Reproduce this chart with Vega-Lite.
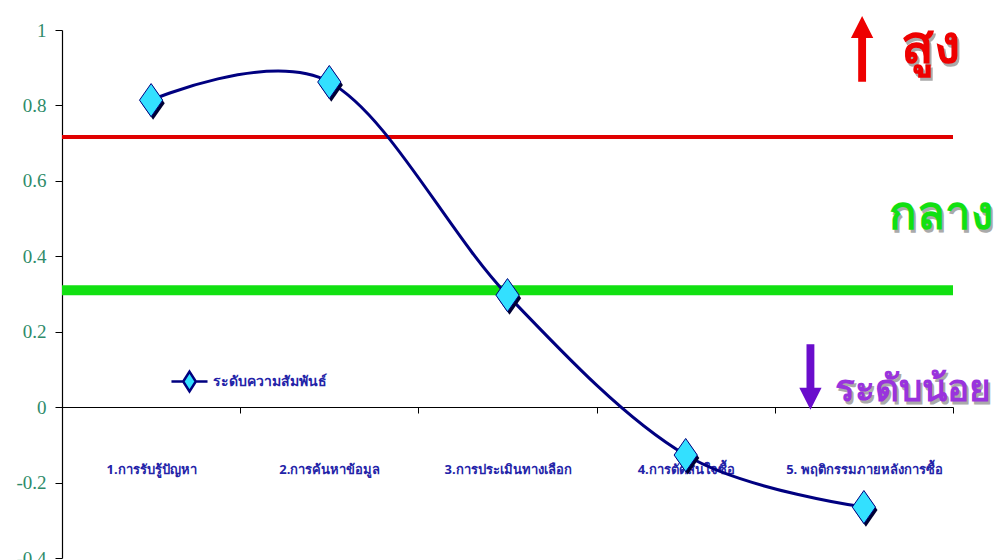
{
  "$schema": "https://vega.github.io/schema/vega-lite/v6.json",
  "width": 891,
  "height": 528,
  "autosize": {"type": "none"},
  "padding": {"left": 62, "top": 30, "right": 44, "bottom": 2},
  "background": "white",
  "config": {"view": {"stroke": null}},
  "datasets": {
    "stages": [
      {"stage": "1.การรับรู้ปัญหา", "value": 0.814, "series": "ระดับความสัมพันธ์"},
      {"stage": "2.การค้นหาข้อมูล", "value": 0.862, "series": "ระดับความสัมพันธ์"},
      {"stage": "3.การประเมินทางเลือก", "value": 0.297, "series": "ระดับความสัมพันธ์"},
      {"stage": "4.การตัดสินใจซื้อ", "value": -0.127, "series": "ระดับความสัมพันธ์"},
      {"stage": "5. พฤติกรรมภายหลังการซื้อ", "value": -0.265, "series": "ระดับความสัมพันธ์"}
    ],
    "levels": [
      {"level": "สูง", "value": 0.716},
      {"level": "กลาง", "value": 0.31}
    ],
    "notes": [
      {"label": "สูง", "px": 5.04, "py": 0.955},
      {"label": "กลาง", "px": 5.225, "py": 0.51},
      {"label": "ระดับน้อย", "px": 5.215, "py": 0.045}
    ],
    "arrows": [
      {"dir": "up", "px": 4.49, "py": 0.95},
      {"dir": "down", "px": 4.2, "py": 0.08}
    ]
  },
  "layer": [
    {
      "layer": [
        {
          "data": {"name": "levels"},
          "transform": [{"filter": "datum.level == 'สูง'"}],
          "mark": {"type": "rule", "color": "#e00000", "strokeWidth": 4},
          "encoding": {
            "y": {
              "field": "value", "type": "quantitative",
              "scale": {"domain": [-0.4, 1], "nice": false, "zero": false},
              "axis": {
                "title": null, "grid": false,
                "values": [-0.4, -0.2, 0, 0.2, 0.4, 0.6, 0.8, 1],
                "labelExpr": "'' + datum.value",
                "domainColor": "black", "domainWidth": 1.2,
                "tickColor": "black", "tickSize": 7,
                "labelFont": "Liberation Serif", "labelFontSize": 19,
                "labelColor": "#2e8b6a", "labelPadding": 9
              }
            }
          }
        },
        {
          "data": {"name": "levels"},
          "transform": [{"filter": "datum.level == 'กลาง'"}],
          "mark": {"type": "rule", "color": "#11e011", "strokeWidth": 10},
          "encoding": {"y": {"field": "value", "type": "quantitative"}}
        },
        {
          "data": {"name": "stages"},
          "mark": {"type": "line", "color": "#000080", "strokeWidth": 3, "interpolate": "cardinal"},
          "encoding": {
            "x": {
              "field": "stage", "type": "nominal", "sort": null,
              "scale": {"type": "band", "paddingInner": 0, "paddingOuter": 0},
              "axis": {
                "title": null, "orient": "bottom", "offset": -151,
                "domainColor": "black", "domainWidth": 1.2,
                "tickColor": "black", "tickSize": 6, "tickBand": "extent",
                "labelPadding": 50, "labelAngle": 0,
                "labelFont": "Noto Sans", "labelFontSize": 13, "labelFontWeight": "bold",
                "labelColor": "#2323a8"
              }
            },
            "y": {"field": "value", "type": "quantitative"}
          }
        },
        {
          "data": {"name": "stages"},
          "mark": {"type": "point", "shape": "M0,-1L0.7,0L0,1L-0.7,0Z", "size": 1100, "filled": true, "color": "#000033", "opacity": 1, "xOffset": 2, "yOffset": 3},
          "encoding": {
            "x": {"field": "stage", "type": "nominal", "sort": null},
            "y": {"field": "value", "type": "quantitative"}
          }
        },
        {
          "data": {"name": "stages"},
          "mark": {"type": "point", "shape": "M0,-1L0.7,0L0,1L-0.7,0Z", "size": 1100, "filled": true, "opacity": 1, "stroke": "#000080", "strokeWidth": 1},
          "encoding": {
            "x": {"field": "stage", "type": "nominal", "sort": null},
            "y": {"field": "value", "type": "quantitative"},
            "fill": {
              "field": "series", "type": "nominal",
              "scale": {"range": ["#33e0ff"]},
              "legend": {
                "title": null, "orient": "none", "legendX": 108, "legendY": 332,
                "symbolType": "M-1,0L-0.35,0M0.35,0L1,0M0,-0.55L0.35,0L0,0.55L-0.35,0Z",
                "symbolSize": 1300, "symbolStrokeColor": "#000080", "symbolStrokeWidth": 2.5,
                "symbolOpacity": 1,
                "labelFont": "Noto Sans", "labelFontSize": 14, "labelFontWeight": "bold",
                "labelColor": "#2323a8", "labelOffset": 4
              }
            }
          }
        }
      ]
    },
    {
      "layer": [
        {
          "data": {"name": "arrows"},
          "transform": [{"filter": "datum.dir == 'up'"}],
          "mark": {"type": "point", "shape": "M-0.12,1L-0.12,-0.33L-0.34,-0.33L0,-1L0.34,-0.33L0.12,-0.33L0.12,1Z", "size": 4300, "filled": true, "color": "#ee0000", "opacity": 1},
          "encoding": {
            "x": {"field": "px", "type": "quantitative", "scale": {"domain": [0, 5]}, "axis": null},
            "y": {"field": "py", "type": "quantitative"}
          }
        },
        {
          "data": {"name": "arrows"},
          "transform": [{"filter": "datum.dir == 'down'"}],
          "mark": {"type": "point", "shape": "M-0.12,-1L-0.12,0.33L-0.34,0.33L0,1L0.34,0.33L0.12,0.33L0.12,-1Z", "size": 4300, "filled": true, "color": "#6a0dcc", "opacity": 1},
          "encoding": {
            "x": {"field": "px", "type": "quantitative"},
            "y": {"field": "py", "type": "quantitative"}
          }
        },
        {
          "data": {"name": "notes"},
          "mark": {"type": "text", "font": "Noto Sans", "fontWeight": "bold", "color": "#aaaaaa", "dx": 2, "dy": 3, "baseline": "middle", "align": "right"},
          "encoding": {
            "x": {"field": "px", "type": "quantitative"},
            "y": {"field": "py", "type": "quantitative"},
            "text": {"field": "label"},
            "size": {"field": "label", "type": "nominal", "scale": {"domain": ["สูง", "กลาง", "ระดับน้อย"], "range": [54, 37, 27]}, "legend": null}
          }
        },
        {
          "data": {"name": "notes"},
          "mark": {"type": "text", "font": "Noto Sans", "fontWeight": "bold", "baseline": "middle", "align": "right"},
          "encoding": {
            "x": {"field": "px", "type": "quantitative"},
            "y": {"field": "py", "type": "quantitative"},
            "text": {"field": "label"},
            "size": {"field": "label", "type": "nominal", "scale": {"domain": ["สูง", "กลาง", "ระดับน้อย"], "range": [54, 37, 27]}, "legend": null},
            "color": {"field": "label", "type": "nominal", "scale": {"domain": ["สูง", "กลาง", "ระดับน้อย"], "range": ["#ee0000", "#11e011", "#9933dd"]}, "legend": null}
          }
        }
      ]
    }
  ],
  "resolve": {"scale": {"x": "independent"}}
}
